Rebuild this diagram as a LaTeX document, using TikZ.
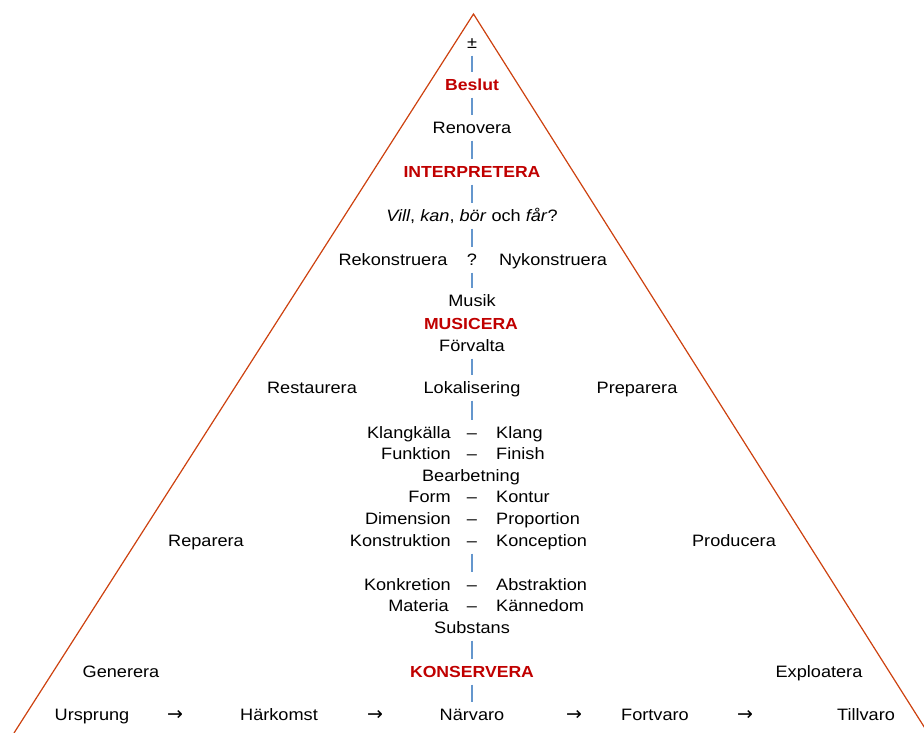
\documentclass[tikz,border=0pt]{standalone}
\usepackage{fontspec}
\setmainfont{Liberation Sans}[FakeStretch=1.1]
\newfontfamily\arrowfont{DejaVu Sans}
\usepackage{tikz}
\definecolor{pyrred}{RGB}{205,65,15}
\definecolor{headred}{RGB}{192,0,0}
\definecolor{linkblue}{RGB}{100,150,205}
\tikzstyle{word} = [inner xsep=1pt, inner ysep=5pt, text height=11pt, text depth=0pt, font={\fontsize{16.5}{18}\selectfont}]
\tikzstyle{head} = [word, text=headred, font={\fontsize{16}{18}\selectfont\bfseries}]
\tikzstyle{lw} = [word, anchor=east]
\tikzstyle{rw} = [word, anchor=west]
\tikzstyle{arr} = [word, font={\fontsize{19}{20}\arrowfont}]
\tikzstyle{link} = [draw=linkblue, line width=1.3pt, shorten >=2pt, shorten <=2pt]
\tikzstyle{side} = [draw=pyrred, line width=1.2pt]

\begin{document}
\begin{tikzpicture}[x=1pt,y=-1pt]
  \useasboundingbox (0,0) rectangle (924,733);
  \coordinate (top) at (473.5,14);
  \coordinate (bl) at (14,733);
  \coordinate (br) at (928,733);
  \draw[side] (bl) -- (top) -- (br);
  % spine
  \node[word](pm) at (472,43){±};
  \node[head](beslut) at (472,85){Beslut};
  \node[word](renov) at (472,128){Renovera};
  \node[head](interp) at (472,172){INTERPRETERA};
  \node[word](vill) at (472,216){\textit{Vill}, \textit{kan}, \textit{bör} och \textit{får}?};
  \node[word](rekon) at (393,260){Rekonstruera};
  \node[word](q) at (472,260){?};
  \node[word](nykon) at (553,260){Nykonstruera};
  \node[word](musik) at (472,301){Musik};
  \node[head](musicera) at (471,324){MUSICERA};
  \node[word](forv) at (472,346){Förvalta};
  \node[word](rest) at (312,388){Restaurera};
  \node[word](lok) at (472,388){Lokalisering};
  \node[word](prep) at (637,388){Preparera};
  % pairs
  \node[lw](l1) at (452,433){Klangkälla};
  \node[word](d1) at (472,433){–};
  \node[rw](r1) at (495,433){Klang};
  \node[lw](l2) at (452,454){Funktion};
  \node[word](d2) at (472,454){–};
  \node[rw](r2) at (495,454){Finish};
  \node[word](bearb) at (471,476){Bearbetning};
  \node[lw](l3) at (452,497){Form};
  \node[word](d3) at (472,497){–};
  \node[rw](r3) at (495,497){Kontur};
  \node[lw](l4) at (452,519){Dimension};
  \node[word](d4) at (472,519){–};
  \node[rw](r4) at (495,519){Proportion};
  \node[word](repar) at (206,541){Reparera};
  \node[lw](l5) at (452,541){Konstruktion};
  \node[word](d5) at (472,541){–};
  \node[rw](r5) at (495,541){Konception};
  \node[word](produc) at (734,541){Producera};
  \node[lw](l6) at (452,585){Konkretion};
  \node[word](d6) at (472,585){–};
  \node[rw](r6) at (495,585){Abstraktion};
  \node[lw](l7) at (450,606){Materia};
  \node[word](d7) at (472,606){–};
  \node[rw](r7) at (495,606){Kännedom};
  \node[word](subst) at (472,628){Substans};
  % base
  \node[word](gener) at (121,672){Generera};
  \node[head](konserv) at (472,672){KONSERVERA};
  \node[word](exploa) at (819,672){Exploatera};
  \node[word](urspr) at (92,715){Ursprung};
  \node[arr](a1) at (175,715){→};
  \node[word](harko) at (279,715){Härkomst};
  \node[arr](a2) at (375,715){→};
  \node[word](narv) at (472,715){Närvaro};
  \node[arr](a3) at (574,715){→};
  \node[word](fortv) at (655,715){Fortvaro};
  \node[arr](a4) at (745,715){→};
  \node[word](tillv) at (866,715){Tillvaro};
  \draw[link](pm)--(beslut);
  \draw[link](beslut)--(renov);
  \draw[link](renov)--(interp);
  \draw[link](interp)--(vill);
  \draw[link](vill)--(q);
  \draw[link](q)--(musik);
  \draw[link](forv)--(lok);
  \draw[link](lok)--(d1);
  \draw[link](d5)--(d6);
  \draw[link](subst)--(konserv);
  \draw[link](konserv)--(narv);
\end{tikzpicture}
\end{document}
